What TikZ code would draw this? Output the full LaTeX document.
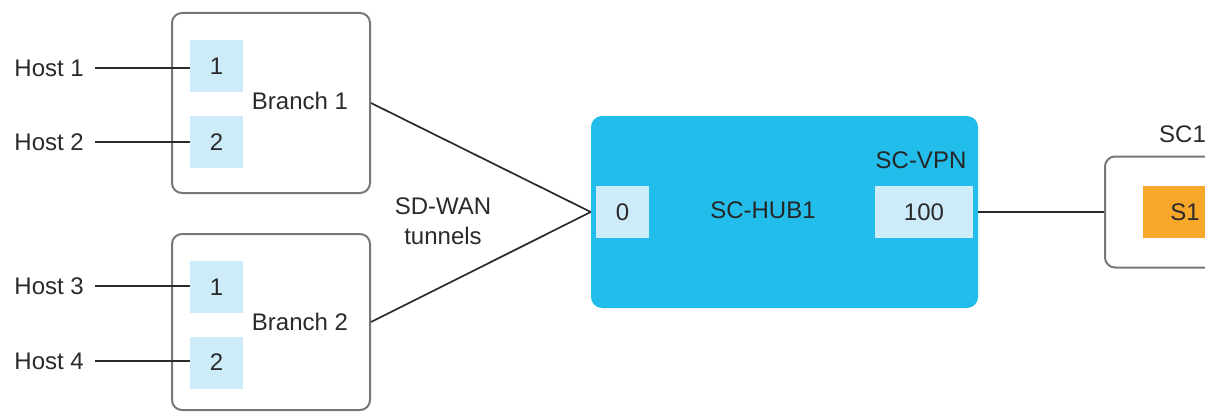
\documentclass[tikz,border=0pt]{standalone}
\usepackage{fontspec}
\setmainfont{Liberation Sans}
\begin{document}
\definecolor{portblue}{HTML}{CDEBF8}
\definecolor{hubblue}{HTML}{22BDEB}
\definecolor{svcorange}{HTML}{F7A82A}
\definecolor{boxgray}{HTML}{777777}
\definecolor{ink}{HTML}{2A2A2A}
\begin{tikzpicture}[x=1pt,y=-1pt,
  every node/.style={font=\fontsize{24}{29}\selectfont, text=ink},
  site/.style={draw=boxgray, line width=2pt, rounded corners=10pt, inner sep=0pt},
  port/.style={fill=portblue, inner sep=0pt, minimum height=52pt},
  hub/.style={fill=hubblue, rounded corners=11pt, inner sep=0pt},
  svc/.style={fill=svcorange, inner sep=0pt, minimum height=52pt},
  hostlabel/.style={anchor=east, inner xsep=11pt, inner ysep=0pt},
  plain/.style={inner sep=0pt},
  link/.style={draw=ink, line width=1.7pt}]
\useasboundingbox (0,0) rectangle (1205,412);
\clip (0,0) rectangle (1205,412);

% branch sites
\node[site, minimum width=198pt, minimum height=180pt] (b1) at (271,103) {};
\node[site, minimum width=198pt, minimum height=176pt] (b2) at (271,322) {};
\node[plain] (b1l) at (300,101) {Branch 1};
\node[plain] (b2l) at (300,322) {Branch 2};

\node[port, minimum width=53pt] (p11) at (216.5,66) {1};
\node[port, minimum width=53pt] (p12) at (216.5,142) {2};
\node[port, minimum width=53pt] (p21) at (216.5,287) {1};
\node[port, minimum width=53pt] (p22) at (216.5,362.5) {2};

% hosts
\node[hostlabel] (h1) at (95,68) {Host 1};
\node[hostlabel] (h2) at (95,142) {Host 2};
\node[hostlabel] (h3) at (95,286) {Host 3};
\node[hostlabel] (h4) at (95,361) {Host 4};

\draw[link] (h1.east) -- (h1.east -| p11.west);
\draw[link] (h2.east) -- (h2.east -| p12.west);
\draw[link] (h3.east) -- (h3.east -| p21.west);
\draw[link] (h4.east) -- (h4.east -| p22.west);

% hub
\node[hub, minimum width=387pt, minimum height=192pt] (hub) at (784.5,212) {};
\node[port, minimum width=53pt] (p0) at (622.5,212) {0};
\node[port, minimum width=98pt] (p100) at (924,212) {100};
\node[plain, text=black!85] (hubl) at (763,210) {SC-HUB1};
\node[plain, text=black!85] (vpnl) at (921,160) {SC-VPN};

% tunnels
\draw[link] (b1.east) -- (hub.west);
\draw[link] (b2.east) -- (hub.west);
\node[plain, align=center] (tun) at (443,221) {SD-WAN\\[1pt]tunnels};

% service chain site
\node[site, minimum width=200pt, minimum height=111pt] (sc1) at (1205,212) {};
\node[plain, anchor=west] (sc1l) at (1159,134) {SC1};
\node[svc, minimum width=84pt] (s1) at (1185,212) {S1};
\draw[link] (hub.east) -- (sc1.west);
\end{tikzpicture}
\end{document}
